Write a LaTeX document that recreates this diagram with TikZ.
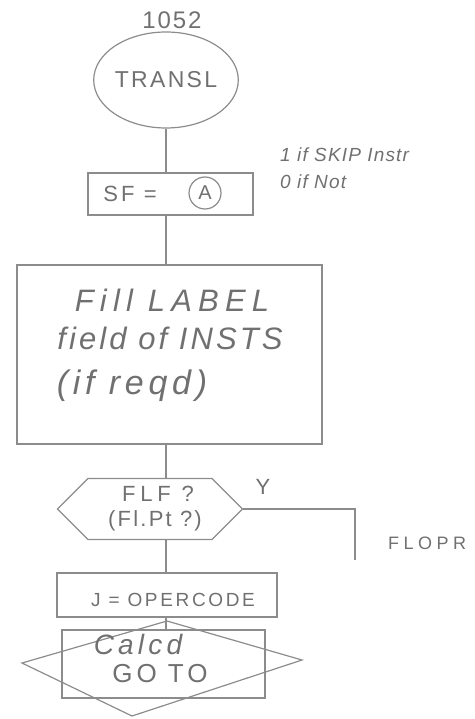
\documentclass[tikz,border=0pt]{standalone}
\usepackage{fontspec}
\setmainfont{Liberation Sans}
\usetikzlibrary{shapes.geometric,shapes.symbols}
\definecolor{pencil}{HTML}{8C8C8C}
\definecolor{lead}{HTML}{707070}
\newcommand\handfont[2]{\fontsize{#1}{#1}\selectfont\addfontfeature{LetterSpace=#2}}
\begin{document}
\begin{tikzpicture}[x=1pt,y=-1pt,
  line/.style={draw=pencil, line width=1.2pt},
  box/.style={line, rectangle, inner sep=0pt},
  hand/.style={text=lead, inner sep=0pt}]
\useasboundingbox (0,0) rectangle (474,719);

% start
\node[hand, font=\handfont{24}{8}] (num) at (172,20) {1052};
\node[ellipse, line, minimum width=121pt, minimum height=96pt, inner sep=0pt,
      text=lead, font=\handfont{23}{10}] (transl) at (166,80) {TRANSL};

% SF box
\node[box, minimum width=165pt, minimum height=42pt] (sf) at (170.5,194) {};
\node[hand, font=\handfont{22}{14}] (sftext) at (130,194) {SF =};
\node[circle, line, minimum size=32pt, inner sep=0pt, text=lead,
      font=\handfont{20}{0}] (a) at (205,193) {A};
\node[hand, anchor=west, font=\itshape\handfont{19}{6}] (note1) at (280,155) {1 if SKIP Instr};
\node[hand, anchor=west, font=\itshape\handfont{19}{6}] (note2) at (280,182) {0 if Not};

% Fill box
\node[box, minimum width=305pt, minimum height=179pt] (fill) at (169.5,354.5) {};
\node[hand, font=\itshape\handfont{31}{20}] (fill1) at (172,300) {Fill LABEL};
\node[hand, font=\itshape\handfont{31}{10}] (fill2) at (170,338) {field of INSTS};
\node[hand, font=\itshape\handfont{34}{14}] (fill3) at (132,386) {(if reqd)};

% decision
\node[signal, signal to=west and east, signal pointer angle=90, line,
      minimum width=185pt, minimum height=61pt, inner sep=0pt] (flf) at (150,509) {};
\node[hand, font=\handfont{22}{22}] (flf1) at (158,494) {FLF ?};
\node[hand, font=\handfont{22}{10}] (flf2) at (155,521) {(Fl.Pt ?)};
\node[hand, font=\handfont{22}{0}] (y) at (263,487) {Y};
\coordinate (flend) at (355,560);
\node[hand, anchor=west, font=\handfont{18}{25}] (flopr) at (388,543) {FLOPR};

% J box
\node[box, minimum width=220pt, minimum height=44pt] (j) at (167,595) {};
\node[hand, font=\handfont{19}{14}] (jtext) at (173,600) {J = OPERCODE};

% Calcd GO TO
\node[box, minimum width=203pt, minimum height=68pt] (calcd) at (163.5,664) {};
\coordinate (dl) at (22,663);
\coordinate (dt) at (167,621);
\coordinate (dr) at (302,660);
\coordinate (db) at (132,716);
\draw[line] (dl) -- (dt) -- (dr) -- (db) -- cycle;
\node[hand, font=\itshape\handfont{28}{15}] (calc1) at (138,644) {Calcd};
\node[hand, font=\handfont{26}{15}] (calc2) at (160,674) {GO TO};

% connectors
\draw[line] (transl.south) -- (transl.south |- sf.north);
\draw[line] (sf.south -| transl.south) -- (fill.north -| transl.south);
\draw[line] (fill.south -| transl.south) -- (flf.north -| transl.south);
\draw[line] (flf.south -| transl.south) -- (j.north -| transl.south);
\draw[line] (j.south -| transl.south) -- (calcd.north -| transl.south);
\draw[line] (flf.east) -- (flf.east -| flend) -- (flend);
\end{tikzpicture}
\end{document}
